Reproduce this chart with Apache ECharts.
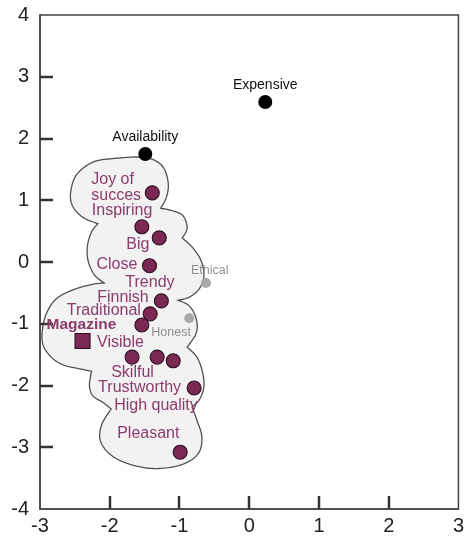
<!DOCTYPE html>
<html>
<head>
<meta charset="utf-8">
<script src="https://cdn.jsdelivr.net/npm/echarts@6/dist/echarts.min.js"></script>
<style>
  html, body { margin: 0; padding: 0; background: #fff; }
  #chart { width: 467px; height: 538px; }
</style>
</head>
<body>
<div id="chart"></div>
<script>
// Axis ranges and tick labels
const xTicks = [-3, -2, -1, 0, 1, 2, 3];
const yTicks = [-4, -3, -2, -1, 0, 1, 2, 3, 4];

// Brand attributes (maroon dots)
const attrNames = ['Joy of\nsucces', 'Inspiring', 'Big', 'Close', 'Trendy', 'Finnish',
  'Traditional', 'Visible', 'Skilful', 'High quality', 'Trustworthy', 'Pleasant'];
const attrX = [-1.39, -1.54, -1.29, -1.43, -1.26, -1.42, -1.54, -1.68, -1.32, -1.09, -0.79, -0.99];
const attrY = [1.12, 0.57, 0.39, -0.06, -0.63, -0.84, -1.02, -1.54, -1.54, -1.60, -2.04, -3.08];

// The product itself (square)
const productNames = ['Magazine'];
const productX = [-2.39];
const productY = [-1.28];

// Reference attributes (black dots)
const anchorNames = ['Expensive', 'Availability'];
const anchorX = [0.23, -1.49];
const anchorY = [2.59, 1.75];

// Weak attributes (grey dots)
const minorNames = ['Ethical', 'Honest'];
const minorX = [-0.62, -0.86];
const minorY = [-0.34, -0.91];

// Outline of the image cloud, one list of [x, y] per lobe; lobes meet at notches
const cloudLobes = [
  [[-2.17, 0.62], [-2.35, 0.70], [-2.49, 0.83], [-2.56, 1.00], [-2.55, 1.20], [-2.49, 1.39],
   [-2.36, 1.54], [-2.18, 1.64], [-1.90, 1.68], [-1.58, 1.70], [-1.36, 1.65], [-1.22, 1.51],
   [-1.16, 1.26], [-1.19, 1.04], [-1.27, 0.87]],
  [[-1.27, 0.87], [-1.10, 0.83], [-0.95, 0.75], [-0.89, 0.55], [-0.96, 0.39]],
  [[-0.96, 0.39], [-0.81, 0.23], [-0.69, 0.02], [-0.65, -0.23], [-0.72, -0.44], [-0.86, -0.57], [-1.02, -0.62]],
  [[-1.02, -0.62], [-0.86, -0.71], [-0.76, -0.92], [-0.76, -1.15], [-0.89, -1.38]],
  [[-0.89, -1.38], [-0.75, -1.54], [-0.67, -1.78], [-0.65, -2.02], [-0.71, -2.22], [-0.82, -2.35]],
  [[-0.82, -2.35], [-0.75, -2.56], [-0.68, -2.82], [-0.71, -3.06], [-0.85, -3.22], [-1.10, -3.32],
   [-1.44, -3.34], [-1.78, -3.25], [-2.02, -3.09], [-2.14, -2.87], [-2.11, -2.62], [-1.98, -2.38]],
  [[-1.98, -2.38], [-2.09, -2.28], [-2.24, -2.17], [-2.29, -2.02], [-2.28, -1.88], [-2.26, -1.77]],
  [[-2.26, -1.77], [-2.43, -1.73], [-2.66, -1.67], [-2.84, -1.54], [-2.96, -1.33], [-2.96, -1.05],
   [-2.89, -0.79], [-2.75, -0.58], [-2.50, -0.44], [-2.24, -0.36], [-2.08, -0.34]],
  [[-2.08, -0.34], [-2.22, -0.21], [-2.31, 0.02], [-2.32, 0.26], [-2.26, 0.49], [-2.17, 0.62]]
];

// Label placement (pixel offsets from each mark's centre, text starts at the offset)
const labelOffsets = {
  'Joy of\nsucces': [-61, -5], 'Inspiring': [-50, -16], 'Big': [-33, 7], 'Close': [-53, -1],
  'Trendy': [-36, -18], 'Finnish': [-53, -16], 'Traditional': [-75, -14], 'Visible': [-35, -15],
  'Skilful': [-46, 15], 'High quality': [-59, 45], 'Trustworthy': [-96, 0], 'Pleasant': [-63, -19],
  'Magazine': [-36, -16], 'Ethical': [-15, -12], 'Honest': [-38, 14]
};

const FONT = '"Liberation Sans", Arial, Helvetica, sans-serif';
const MAROON = '#7b2953';
const MAROON_TEXT = '#8b3c6b';
const AXIS_COLOR = '#444';
const TICK_LEN = 13;

function pointsOf(names, xs, ys) {
  return names.map((n, i) => ({ name: n, value: [xs[i], ys[i]] }));
}

function sideLabel(color, size, weight) {
  return {
    show: true,
    position: 'inside',
    align: 'left',
    verticalAlign: 'middle',
    color: color,
    fontSize: size,
    fontWeight: weight || 'normal',
    fontFamily: FONT,
    lineHeight: size + 0.5,
    formatter: p => p.name
  };
}

function withOffsets(items) {
  return items.map(it => Object.assign({}, it, { label: { offset: labelOffsets[it.name] || [0, 0] } }));
}

// Smooth each lobe with a Catmull-Rom spline; notches stay as corners
function renderCloud(params, api) {
  const pts = [];
  cloudLobes.forEach(lobe => {
    const px = lobe.map(p => api.coord(p));
    const n = px.length;
    for (let i = 0; i < n - 1; i++) {
      const p0 = px[Math.max(i - 1, 0)], p1 = px[i], p2 = px[i + 1], p3 = px[Math.min(i + 2, n - 1)];
      const steps = 10;
      for (let s = 0; s < steps; s++) {
        const t = s / steps, t2 = t * t, t3 = t2 * t;
        const q = [0, 1].map(k => 0.5 * (2 * p1[k] + (-p0[k] + p2[k]) * t +
          (2 * p0[k] - 5 * p1[k] + 4 * p2[k] - p3[k]) * t2 +
          (-p0[k] + 3 * p1[k] - 3 * p2[k] + p3[k]) * t3));
        pts.push(q);
      }
    }
  });
  return {
    type: 'polygon',
    shape: { points: pts },
    style: { fill: '#f2f2f2', stroke: '#505050', lineWidth: 1.3 }
  };
}

// Inward tick marks on the bottom and left edges of the frame
function renderTick(horizontalEdge) {
  return function (params, api) {
    const p = api.coord([api.value(0), api.value(1)]);
    const x = Math.round(p[0]), y = Math.round(p[1]);
    const pts = horizontalEdge
      ? [[x, y], [x, y - TICK_LEN]]
      : [[x, y], [x + TICK_LEN, y]];
    return {
      type: 'polyline',
      shape: { points: pts },
      style: { stroke: '#333333', lineWidth: 2.5, fill: null }
    };
  };
}

const axisCommon = {
  type: 'value',
  interval: 1,
  axisLine: { show: true, onZero: false, lineStyle: { color: AXIS_COLOR, width: 1.5 } },
  axisTick: { show: false },
  splitLine: { show: false },
  axisLabel: { color: '#222', fontSize: 20, fontFamily: FONT }
};

const chart = echarts.init(document.getElementById('chart'), null, { renderer: 'canvas' });
chart.setOption({
  animation: false,
  backgroundColor: '#fff',
  grid: { left: 40, right: 3, top: 15, bottom: 29, show: true, borderColor: AXIS_COLOR, borderWidth: 1.5 },
  xAxis: Object.assign({}, axisCommon, {
    min: xTicks[0], max: xTicks[xTicks.length - 1],
    axisLabel: Object.assign({}, axisCommon.axisLabel, { margin: 7 })
  }),
  yAxis: Object.assign({}, axisCommon, {
    min: yTicks[0], max: yTicks[yTicks.length - 1],
    axisLabel: Object.assign({}, axisCommon.axisLabel, { margin: 11 })
  }),
  series: [
    {
      type: 'custom',
      name: 'cloud',
      coordinateSystem: 'cartesian2d',
      silent: true,
      z: 1,
      data: [[0, 0]],
      renderItem: renderCloud
    },
    {
      type: 'custom',
      name: 'xTickMarks',
      coordinateSystem: 'cartesian2d',
      silent: true,
      clip: false,
      z: 5,
      data: xTicks.slice(1, -1).map(v => [v, yTicks[0]]),
      renderItem: renderTick(true)
    },
    {
      type: 'custom',
      name: 'yTickMarks',
      coordinateSystem: 'cartesian2d',
      silent: true,
      clip: false,
      z: 5,
      data: yTicks.slice(1, -1).map(v => [xTicks[0], v]),
      renderItem: renderTick(false)
    },
    {
      type: 'scatter',
      name: 'attributes',
      z: 6,
      symbol: 'circle',
      symbolSize: 14,
      itemStyle: { color: MAROON, borderColor: '#2e1020', borderWidth: 1.1, opacity: 1 },
      label: sideLabel(MAROON_TEXT, 16),
      data: withOffsets(pointsOf(attrNames, attrX, attrY))
    },
    {
      type: 'scatter',
      name: 'product',
      z: 6,
      symbol: 'rect',
      symbolSize: 15,
      itemStyle: { color: MAROON, borderColor: '#2e1020', borderWidth: 1.1, opacity: 1 },
      label: sideLabel(MAROON_TEXT, 15.5, 'bold'),
      data: withOffsets(pointsOf(productNames, productX, productY))
    },
    {
      type: 'scatter',
      name: 'anchors',
      z: 6,
      symbol: 'circle',
      symbolSize: 14,
      itemStyle: { color: '#000', opacity: 1 },
      label: {
        show: true, position: 'top', distance: 3, color: '#111', fontSize: 14, fontFamily: FONT,
        formatter: p => p.name
      },
      data: pointsOf(anchorNames, anchorX, anchorY)
    },
    {
      type: 'scatter',
      name: 'minor',
      z: 6,
      symbol: 'circle',
      symbolSize: 10,
      itemStyle: { color: '#a9a9a9', opacity: 1 },
      label: sideLabel('#8f8f8f', 12.5),
      data: withOffsets(pointsOf(minorNames, minorX, minorY))
    }
  ]
});
</script>
</body>
</html>
